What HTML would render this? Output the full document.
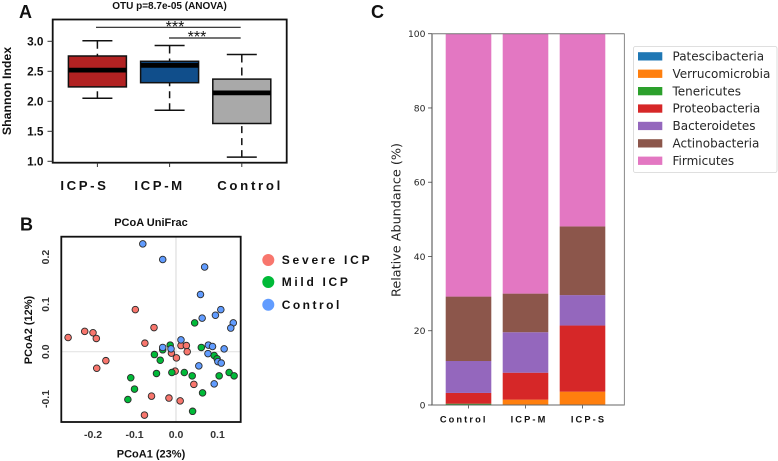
<!DOCTYPE html>
<html lang="en">
<head>
<meta charset="utf-8">
<title>Microbiome diversity figure</title>
<style>
html,body{margin:0;padding:0;background:#fff;width:778px;height:461px;overflow:hidden}
svg{display:block;filter:blur(0.35px)}
text{font-family:"Liberation Sans",sans-serif;font-weight:bold;fill:#111}
.dj{font-family:"DejaVu Sans",sans-serif;font-weight:normal;fill:#262626}
.star{font-weight:normal}
</style>
</head>
<body>
<svg id="fig" xmlns="http://www.w3.org/2000/svg" width="778" height="461" viewBox="0 0 778 461">
  <g id="panelA">
    <text x="19" y="18" font-size="18">A</text>
    <text x="169.5" y="9" font-size="10" text-anchor="middle">OTU p=8.7e-05 (ANOVA)</text>
    <text transform="translate(11,91) rotate(-90)" font-size="12.3" text-anchor="middle">Shannon Index</text>
    <rect x="52.7" y="19.5" width="234" height="143.2" fill="none" stroke="#111" stroke-width="1.8"/>
    <line x1="96" x2="240.7" y1="27.3" y2="27.3" stroke="#222" stroke-width="1.2"/>
    <line x1="169" x2="240.7" y1="38" y2="38" stroke="#222" stroke-width="1.2"/>
    <text class="star" x="175" y="32" font-size="16" text-anchor="middle">***</text>
    <text class="star" x="197" y="42" font-size="16" text-anchor="middle">***</text>
  </g>
  <g id="panelB">
    <text x="20" y="230.7" font-size="18">B</text>
    <text x="151" y="226" font-size="11" text-anchor="middle">PCoA UniFrac</text>
    <text x="151" y="457.5" font-size="11" text-anchor="middle">PCoA1 (23%)</text>
    <text transform="translate(32,330) rotate(-90)" font-size="11" text-anchor="middle">PCoA2 (12%)</text>
    <g>
      <circle cx="268.3" cy="260" r="6" fill="#F8766D"/>
      <circle cx="268.3" cy="282" r="6" fill="#00BA38"/>
      <circle cx="268.3" cy="304.7" r="6" fill="#619CFF"/>
      <text x="281.7" y="264" font-size="12" letter-spacing="2.8">Severe ICP</text>
      <text x="281.7" y="286" font-size="12" letter-spacing="2.7">Mild ICP</text>
      <text x="281.7" y="309" font-size="12" letter-spacing="2.5">Control</text>
    </g>
  </g>
  <g id="panelC">
    <text x="371" y="18" font-size="18">C</text>
    <text class="dj" transform="translate(400.5,220) rotate(-90)" font-size="12.8" text-anchor="middle">Relative Abundance (%)</text>
    <g>
      <rect x="633.5" y="46.5" width="143.5" height="126" rx="2" fill="#fff" stroke="#d5d5d5" stroke-width="0.8"/>
      <rect x="638" y="52.2" width="24.3" height="8.3" fill="#1f77b4"/>
      <rect x="638" y="69.6" width="24.3" height="8.3" fill="#ff7f0e"/>
      <rect x="638" y="87" width="24.3" height="8.3" fill="#2ca02c"/>
      <rect x="638" y="104.4" width="24.3" height="8.3" fill="#d62728"/>
      <rect x="638" y="121.8" width="24.3" height="8.3" fill="#9467bd"/>
      <rect x="638" y="139.2" width="24.3" height="8.3" fill="#8c564b"/>
      <rect x="638" y="156.6" width="24.3" height="8.3" fill="#e377c2"/>
      <text class="dj" x="672.5" y="60.5" font-size="12">Patescibacteria</text>
      <text class="dj" x="672.5" y="77.9" font-size="12">Verrucomicrobia</text>
      <text class="dj" x="672.5" y="95.3" font-size="12">Tenericutes</text>
      <text class="dj" x="672.5" y="112.7" font-size="12">Proteobacteria</text>
      <text class="dj" x="672.5" y="130.1" font-size="12">Bacteroidetes</text>
      <text class="dj" x="672.5" y="147.5" font-size="12">Actinobacteria</text>
      <text class="dj" x="672.5" y="164.9" font-size="12">Firmicutes</text>
    </g>
  </g>
</svg>
<script>
/* Panel A data */
const boxGroups = ['ICP-S', 'ICP-M', 'Control'];
const boxLow = [2.05, 1.85, 1.07];
const boxQ1 = [2.24, 2.31, 1.63];
const boxMedian = [2.52, 2.60, 2.14];
const boxQ3 = [2.755, 2.667, 2.37];
const boxHigh = [3.01, 2.93, 2.78];
const boxColors = ['#b22222', '#104e8b', '#a9a9a9'];
const shannonTicks = [1.0, 1.5, 2.0, 2.5, 3.0];

/* Panel B data */
const severeX = [-0.260,-0.220,-0.200,-0.192,-0.169,-0.191,-0.098,-0.053,-0.075,-0.011,0.001,0.012,0.025,0.027,-0.002,0.043,-0.059,-0.017,0.010,-0.076];
const severeY = [0.030,0.043,0.040,0.028,-0.019,-0.035,0.089,0.051,0.018,-0.003,-0.013,0.013,0.013,0.000,-0.041,-0.069,-0.094,-0.098,-0.104,-0.134];
const mildX = [0.045,0.061,-0.014,-0.032,-0.052,-0.038,-0.047,-0.010,0.020,0.039,0.092,0.099,0.104,0.128,0.140,0.064,0.040,-0.109,-0.100,-0.116];
const mildY = [0.061,0.009,0.014,0.004,-0.006,-0.018,-0.046,-0.044,-0.044,-0.051,-0.008,-0.015,-0.051,-0.044,-0.051,-0.087,-0.126,-0.055,-0.079,-0.101];
const controlX = [-0.080,-0.032,0.069,0.059,0.108,0.095,0.063,0.138,0.132,0.012,-0.032,-0.012,0.078,0.088,0.116,0.077,0.101,0.109,0.055,0.092];
const controlY = [0.228,0.195,0.179,0.121,0.089,0.077,0.071,0.061,0.050,0.025,0.009,0.006,0.014,0.011,0.006,-0.004,-0.021,-0.024,-0.030,-0.068];
const pcoaXTicks = [-0.2, -0.1, 0.0, 0.1];
const pcoaYTicks = [-0.1, 0.0, 0.1, 0.2];

/* Panel C data */
const stackGroups = ['Control', 'ICP-M', 'ICP-S'];
const stackNames = ['patescibacteria', 'verrucomicrobia', 'tenericutes', 'proteobacteria', 'bacteroidetes', 'actinobacteria', 'firmicutes'];
const stackColors = ['#1f77b4', '#ff7f0e', '#2ca02c', '#d62728', '#9467bd', '#8c564b', '#e377c2'];
const patescibacteria = [0, 0, 0];
const verrucomicrobia = [0.05, 1.44, 3.6];
const tenericutes = [0.3, 0, 0];
const proteobacteria = [2.9, 7.26, 17.8];
const bacteroidetes = [8.6, 10.9, 8.2];
const actinobacteria = [17.35, 10.4, 18.5];
const firmicutes = [70.8, 70.0, 51.9];
const abundanceTicks = [0, 20, 40, 60, 80, 100];

const NS = 'http://www.w3.org/2000/svg';
function mk(parent, tag, props, txt) {
  const e = document.createElementNS(NS, tag);
  for (const k in props) e.setAttribute(k, props[k]);
  if (txt !== undefined) e.textContent = txt;
  parent.appendChild(e);
  return e;
}
const gA = document.getElementById('panelA');
const gB = document.getElementById('panelB');
const gC = document.getElementById('panelC');

/* Panel A axes */
const ax = i => 97.4 + i * 72.2;
const ay = v => 161.3 - (v - 1) * 60;
const boxLabelShift = i => [-13, -10, 8.3][i];
shannonTicks.forEach(t => {
  let el = mk(gA, 'line', {x1: 47.5, x2: 52.7, y1: ay(t), y2: ay(t), stroke: '#333', 'stroke-width': 1});
  
  
  el = mk(gA, 'text', {x: 43.5, y: ay(t) + 4, 'font-size': 11.8, 'text-anchor': 'end'}, t.toFixed(1));
  
  
});
boxGroups.forEach((g, i) => {
  const c = ax(i), hw = 29;
  const key = g.toLowerCase();
  let el = mk(gA, 'line', {x1: c, x2: c, y1: 162.7, y2: 167, stroke: '#333', 'stroke-width': 1});
  
  
  el = mk(gA, 'text', {x: c + boxLabelShift(i), y: 190, 'font-size': 13.2, 'text-anchor': 'middle', 'letter-spacing': i === 2 ? 2.7 : 2.6}, g);
  
  
  el = mk(gA, 'line', {x1: c, x2: c, y1: ay(boxHigh[i]), y2: ay(boxQ3[i]), stroke: '#111', 'stroke-width': 1.5, 'stroke-dasharray': '8 5'});
  
  
  el = mk(gA, 'line', {x1: c, x2: c, y1: ay(boxLow[i]), y2: ay(boxQ1[i]), stroke: '#111', 'stroke-width': 1.5, 'stroke-dasharray': '7 5'});
  
  
  el = mk(gA, 'line', {x1: c - 15, x2: c + 15, y1: ay(boxHigh[i]), y2: ay(boxHigh[i]), stroke: '#111', 'stroke-width': 1.5});
  
  
  el = mk(gA, 'line', {x1: c - 15, x2: c + 15, y1: ay(boxLow[i]), y2: ay(boxLow[i]), stroke: '#111', 'stroke-width': 1.5});
  
  
  el = mk(gA, 'rect', {x: c - hw, y: ay(boxQ3[i]), width: hw * 2, height: ay(boxQ1[i]) - ay(boxQ3[i]), fill: boxColors[i], stroke: '#111', 'stroke-width': 1.5});
  
  
  el = mk(gA, 'line', {x1: c - hw, x2: c + hw, y1: ay(boxMedian[i]), y2: ay(boxMedian[i]), stroke: '#000', 'stroke-width': 4.8});
  
  
});

/* Panel B axes */
const bx = v => 176 + v * 415;
const by = v => 351.7 - v * 473;
let gridEl = mk(gB, 'line', {x1: bx(0), x2: bx(0), y1: 237, y2: 422, stroke: '#dedede', 'stroke-width': 1.2});


gridEl = mk(gB, 'line', {x1: 61.5, x2: 240.5, y1: by(0), y2: by(0), stroke: '#e4e4e4', 'stroke-width': 1.2});


pcoaXTicks.forEach(t => {
  const el = mk(gB, 'text', {x: bx(t), y: 438, 'font-size': 10.5, 'text-anchor': 'middle', style: 'fill:#333'}, t.toFixed(1));
  
  
});
pcoaYTicks.forEach(t => {
  const el = mk(gB, 'text', {transform: 'translate(49,' + by(t) + ') rotate(-90)', 'font-size': 10.5, 'text-anchor': 'middle', style: 'fill:#333'}, t.toFixed(1));
  
  
});
function drawPoints(xs, ys, color, name) {
  xs.forEach((x, i) => {
    const el = mk(gB, 'circle', {cx: bx(x), cy: by(ys[i]), r: 3.3, fill: color, stroke: '#2b2b2b', 'stroke-width': 0.9});
    
    
  });
}
drawPoints(severeX, severeY, '#F8766D', 'severe-icp-point');
drawPoints(mildX, mildY, '#00BA38', 'mild-icp-point');
drawPoints(controlX, controlY, '#619CFF', 'control-point');
const frameB = mk(gB, 'rect', {x: 61.3, y: 236.7, width: 179.4, height: 185.3, fill: 'none', stroke: '#111', 'stroke-width': 1.8});



/* Panel C axes */
const cx = i => 468.5 + i * 57;
const cy = v => 405 - v * 3.713;
const stackLabelShift = i => [-4.8, 3.5, 6][i];
const stackSeries = [patescibacteria, verrucomicrobia, tenericutes, proteobacteria, bacteroidetes, actinobacteria, firmicutes];
stackGroups.forEach((g, i) => {
  let base = 0;
  stackSeries.forEach((series, s) => {
    const v = series[i];
    if (v > 0) {
      const el = mk(gC, 'rect', {x: cx(i) - 22.8, y: cy(base + v), width: 45.6, height: cy(base) - cy(base + v), fill: stackColors[s]});
      
      
    }
    base += v;
  });
  let el = mk(gC, 'line', {x1: cx(i), x2: cx(i), y1: 405, y2: 408.5, stroke: '#444', 'stroke-width': 0.8});
  
  
  el = mk(gC, 'text', {x: cx(i) + stackLabelShift(i), y: 422.7, 'font-size': 9.3, 'text-anchor': 'middle', 'letter-spacing': 2.1}, g);
  
  
});
abundanceTicks.forEach(t => {
  let el = mk(gC, 'line', {x1: 428, x2: 432, y1: cy(t), y2: cy(t), stroke: '#444', 'stroke-width': 0.8});
  
  
  el = mk(gC, 'text', {x: 425.5, y: cy(t) + 3.4, 'font-size': 9.2, 'text-anchor': 'end', class: 'dj'}, String(t));
  
  
});
let spine = mk(gC, 'line', {x1: 432, x2: 432, y1: 33.5, y2: 405.5, stroke: '#444', 'stroke-width': 1});


spine = mk(gC, 'line', {x1: 432, x2: 624.4, y1: 405, y2: 405, stroke: '#666', 'stroke-width': 1});


spine = mk(gC, 'line', {x1: 432, x2: 624.4, y1: 33.7, y2: 33.7, stroke: '#777', 'stroke-width': 1});


spine = mk(gC, 'line', {x1: 624.4, x2: 624.4, y1: 33.5, y2: 405.5, stroke: '#888', 'stroke-width': 1});


</script>
</body>
</html>
